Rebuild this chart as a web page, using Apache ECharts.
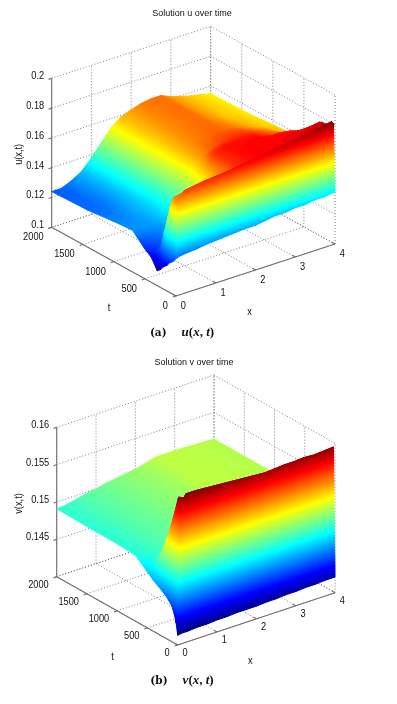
<!DOCTYPE html>
<html>
<head>
<meta charset="utf-8">
<style>html,body{margin:0;padding:0;background:#fff}#chart{width:397px;height:704px;filter:blur(0.45px)}</style>
<script src="https://cdn.jsdelivr.net/npm/echarts@6/dist/echarts.min.js"></script>
</head>
<body>
<div id="chart"></div>
<script>
// surface grid, rows of the two tables below follow tGrid, columns follow xGrid
const xGrid = [0, 0.1, 0.25, 0.5, 0.75, 1, 1.25, 1.5, 1.75, 2, 2.25, 2.5, 2.75, 3, 3.25, 3.5, 3.75, 4];
const tGrid = [0, 25, 50, 100, 150, 200, 250, 300, 400, 500, 700, 1000, 1400, 2000];

const uValues = [
    [.125, .126, .1265, .127, .128, .1285, .129, .1295, .130, .130, .131, .132, .132, .133, .133, .134, .134, .135],
    [.1235, .162, .168, .169, .170, .1705, .171, .172, .173, .1735, .174, .175, .1755, .176, .177, .178, .1785, .180],
    [.122, .165, .166, .167, .168, .169, .170, .171, .172, .173, .174, .175, .176, .1765, .1775, .1785, .180, .181],
    [.120, .163, .160, .158, .158, .160, .164, .168, .170, .172, .173, .173, .173, .174, .175, .176, .177, .178],
    [.117, .156, .150, .148, .150, .153, .159, .165, .170, .172, .173, .173, .173, .174, .175, .175, .176, .177],
    [.115, .146, .140, .138, .141, .147, .155, .163, .170, .172, .173, .173, .173, .174, .174, .175, .176, .177],
    [.112, .136, .130, .130, .135, .143, .153, .162, .170, .172, .173, .173, .173, .173, .174, .174, .175, .176],
    [.110, .126, .122, .125, .132, .141, .152, .162, .170, .172, .173, .173, .173, .173, .173, .173, .173, .172],
    [.117, .119, .122, .126, .132, .140, .150, .160, .170, .172, .172, .173, .173, .172, .172, .171, .169, .167],
    [.120, .122, .124, .127, .132, .139, .148, .158, .170, .172, .172, .172, .172, .170, .168, .167, .164, .162],
    [.128, .128, .128, .129, .133, .139, .146, .154, .162, .166, .168, .169, .169, .168, .166, .164, .160, .158],
    [.127, .127, .127, .129, .132, .138, .146, .154, .160, .163, .1645, .1655, .165, .164, .162, .160, .158, .157],
    [.125, .125, .125, .127, .131, .138, .146, .154, .159, .162, .1635, .1645, .1645, .162, .160, .158, .157, .1555],
    [.124, .124, .124, .127, .131, .138, .146, .154, .159, .1615, .1635, .1645, .1645, .1615, .1595, .1577, .1564, .1548]
];

const vValues = [
    [.1413, .1414, .1414, .1415, .1415, .1416, .1416, .1417, .1417, .1417, .1418, .1418, .1419, .1419, .1420, .1420, .1421, .1421],
    [.1428, .1585, .1597, .1597, .1596, .1595, .1594, .1593, .1592, .1591, .1590, .1591, .1592, .1592, .1593, .1592, .1593, .1594],
    [.1437, .1594, .159, .1575, .156, .155, .155, .155, .155, .155, .155, .155, .155, .155, .155, .155, .155, .155],
    [.1448, .1575, .155, .154, .1535, .153, .153, .153, .153, .153, .153, .153, .153, .153, .153, .153, .153, .153],
    [.1453, .1558, .1535, .1525, .152, .1518, .1518, .1518, .1518, .1518, .1518, .1518, .1518, .1518, .1518, .1518, .1518, .1518],
    [.1457, .1542, .1525, .1515, .151, .151, .151, .151, .151, .151, .1512, .1516, .1516, .1516, .1516, .1516, .1516, .1516],
    [.146, .1528, .1515, .151, .1505, .1505, .1505, .1507, .1508, .151, .1512, .1516, .1516, .1516, .1516, .1516, .1515, .1515],
    [.1463, .1515, .1505, .150, .150, .150, .1503, .1505, .1507, .1509, .1512, .1516, .1516, .1516, .1516, .1515, .1515, .1514],
    [.1468, .1495, .1495, .1495, .1498, .150, .1503, .1505, .1507, .1509, .1512, .1516, .1516, .1516, .1516, .1515, .1515, .1514],
    [.1475, .148, .149, .1495, .1498, .150, .1503, .1505, .1507, .1509, .1512, .1516, .1516, .1516, .1516, .1515, .1515, .1514],
    [.1488, .1488, .1492, .1495, .1498, .150, .1503, .1505, .1507, .1509, .1512, .1516, .1516, .1516, .1516, .1515, .1515, .1514],
    [.149, .149, .1492, .1495, .1498, .150, .1503, .1505, .1507, .1509, .1512, .1516, .1516, .1516, .1516, .1515, .1515, .1514],
    [.149, .149, .1492, .1495, .1498, .150, .1503, .1505, .1507, .1509, .1512, .1516, .1516, .1516, .1516, .1515, .1515, .1514],
    [.1491, .1491, .1492, .1495, .1498, .150, .1503, .1505, .1507, .1509, .1512, .1516, .1516, .1516, .1516, .1515, .1515, .1514]
];

const xTicks = [0, 1, 2, 3, 4];
const tTicks = [0, 500, 1000, 1500, 2000];
const uTicks = [0.1, 0.12, 0.14, 0.16, 0.18, 0.2];
const uTickLabels = ['0.1', '0.12', '0.14', '0.16', '0.18', '0.2'];
const vTicks = [0.14, 0.145, 0.15, 0.155, 0.16];
const vTickLabels = ['', '0.145', '0.15', '0.155', '0.16'];

// 3D box of each panel, as a linear map onto the hidden 2D axes
const panels = [
    {
        top: 0, values: uValues, zTicks: uTicks, zLabels: uTickLabels, zName: 'u(x,t)',
        origin: [176, 296], xVec: [39.75, -13], tVec: [-0.06217, -0.03433], zVec: -1490,
        colorRange: [0.108, 0.182], tLabelDy: 10, xLabelDy: 10.5, zNameDx: -32.7
    },
    {
        top: 350, values: vValues, zTicks: vTicks, zLabels: vTickLabels, zName: 'v(x,t)',
        origin: [177.7, 295], xVec: [39.33, -13.08], tVec: [-0.0605, -0.03417], zVec: -7467,
        colorRange: [0.1413, 0.1597], tLabelDy: 8.5, xLabelDy: 8.5, zNameDx: -37.7
    }
];

const jetKnots = [
    [0, [0, 0, 128]], [0.125, [0, 0, 255]], [0.375, [0, 255, 255]],
    [0.625, [255, 255, 0]], [0.875, [255, 0, 0]], [1, [128, 0, 0]]
];

function jet(f) {
    f = Math.max(0, Math.min(1, f));
    for (let k = 1; k < jetKnots.length; k++) {
        if (f <= jetKnots[k][0]) {
            let a = jetKnots[k - 1], b = jetKnots[k];
            let s = (f - a[0]) / (b[0] - a[0]);
            let c = a[1].map((v, n) => Math.round(v + (b[1][n] - v) * s));
            return 'rgb(' + c.join(',') + ')';
        }
    }
    return 'rgb(128,0,0)';
}

function project(p, x, t, z) {
    let zMin = p.zTicks[0];
    return [
        p.origin[0] + p.xVec[0] * x + p.tVec[0] * t,
        p.origin[1] + p.xVec[1] * x + p.tVec[1] * t + p.zVec * (z - zMin)
    ];
}

// one triangle with the colormap running across it
function triangle(p, a, b, c) {
    let lo = p.colorRange[0], span = p.colorRange[1] - lo;
    let pts = [a, b, c].map(v => [v[0], v[1]]);
    let fa = (a[2] - lo) / span, fb = (b[2] - lo) / span, fc = (c[2] - lo) / span;
    let det = (b[0] - a[0]) * (c[1] - a[1]) - (c[0] - a[0]) * (b[1] - a[1]);
    let fMin = Math.min(fa, fb, fc), fMax = Math.max(fa, fb, fc);
    let fill;
    if (Math.abs(det) < 0.01 || fMax - fMin < 0.002) {
        fill = jet((fa + fb + fc) / 3);
    } else {
        let gx = ((fb - fa) * (c[1] - a[1]) - (fc - fa) * (b[1] - a[1])) / det;
        let gy = ((fc - fa) * (b[0] - a[0]) - (fb - fa) * (c[0] - a[0])) / det;
        let g2 = gx * gx + gy * gy;
        let start = fa === fMin ? a : fb === fMin ? b : c;
        let d = (fMax - fMin) / g2;
        let stops = [{ offset: 0, color: jet(fMin) }];
        jetKnots.forEach(k => {
            if (k[0] > fMin && k[0] < fMax) {
                stops.push({ offset: (k[0] - fMin) / (fMax - fMin), color: jet(k[0]) });
            }
        });
        stops.push({ offset: 1, color: jet(fMax) });
        fill = new echarts.graphic.LinearGradient(start[0], start[1], start[0] + gx * d, start[1] + gy * d, stops, true);
    }
    return {
        type: 'polygon',
        shape: { points: pts },
        style: { fill: fill, stroke: fill, lineWidth: 1, lineJoin: 'round' },
        silent: true
    };
}

function surfaceSeries(p, index) {
    let cells = [];
    for (let j = tGrid.length - 2; j >= 0; j--) {
        for (let i = xGrid.length - 2; i >= 0; i--) cells.push([i, j]);
    }
    return {
        type: 'custom',
        xAxisIndex: index,
        yAxisIndex: index,
        clip: false,
        silent: true,
        animation: false,
        data: cells,
        renderItem: function (params, api) {
            let i = api.value(0), j = api.value(1);
            let corner = (ci, cj) => {
                let z = p.values[cj][ci];
                let s = api.coord(project(p, xGrid[ci], tGrid[cj], z));
                return [s[0], s[1], z];
            };
            let a = corner(i, j), b = corner(i + 1, j), c = corner(i + 1, j + 1), d = corner(i, j + 1);
            return { type: 'group', children: [triangle(p, a, c, d), triangle(p, a, b, c)] };
        }
    };
}

function frameSeries(p, index) {
    let zMin = p.zTicks[0], zMax = p.zTicks[p.zTicks.length - 1];
    let segs = [];
    xTicks.forEach(x => {
        segs.push([x, 0, zMin, x, 2000, zMin, 0]);
        segs.push([x, 2000, zMin, x, 2000, zMax, 0]);
        segs.push([x, 0, zMin, x, 50, zMin, 1]);
    });
    tTicks.forEach(t => {
        segs.push([0, t, zMin, 4, t, zMin, 0]);
        segs.push([4, t, zMin, 4, t, zMax, 0]);
        segs.push([0, t, zMin, -0.08, t, zMin, 1]);
    });
    p.zTicks.forEach(z => {
        segs.push([0, 2000, z, 4, 2000, z, 0]);
        segs.push([4, 2000, z, 4, 0, z, 0]);
        segs.push([0, 2000, z, -0.08, 2000, z, 1]);
    });
    segs.push([0, 2000, zMin, 0, 2000, zMax, 1]);
    segs.push([0, 0, zMin, 4, 0, zMin, 1]);
    segs.push([0, 0, zMin, 0, 2000, zMin, 1]);
    return {
        type: 'custom',
        xAxisIndex: index,
        yAxisIndex: index,
        clip: false,
        silent: true,
        animation: false,
        data: segs,
        renderItem: function (params, api) {
            let a = api.coord(project(p, api.value(0), api.value(1), api.value(2)));
            let b = api.coord(project(p, api.value(3), api.value(4), api.value(5)));
            let solid = api.value(6) === 1;
            return {
                type: 'line',
                shape: { x1: a[0], y1: a[1], x2: b[0], y2: b[1] },
                style: solid
                    ? { stroke: '#707070', lineWidth: 1.1 }
                    : { stroke: '#707070', lineWidth: 0.9, lineDash: [1, 2] }
            };
        }
    };
}

function labelSeries(p, index) {
    let zMin = p.zTicks[0], zMid = (zMin + p.zTicks[p.zTicks.length - 1]) / 2;
    let labels = [];
    p.zTicks.forEach((z, n) => labels.push([p.zLabels[n], 0, 2000, z, -7.5, -2, 'right', 0]));
    tTicks.forEach(t => labels.push([String(t), 0, t, zMin, -8, p.tLabelDy, 'right', 0]));
    xTicks.forEach(x => labels.push([String(x), x, 0, zMin, 7.3, p.xLabelDy, 'center', 0]));
    labels.push(['t', 0, 1000, zMin, -4.7, 46, 'center', 0]);
    labels.push(['x', 2, 0, zMin, -6, 42, 'center', 0]);
    labels.push([p.zName, 0, 2000, zMid, p.zNameDx, 1.5, 'center', 1]);
    return {
        type: 'custom',
        xAxisIndex: index,
        yAxisIndex: index,
        clip: false,
        silent: true,
        animation: false,
        data: labels.map((l, n) => [n]),
        renderItem: function (params, api) {
            let l = labels[api.value(0)];
            let s = api.coord(project(p, l[1], l[2], l[3]));
            return {
                type: 'text',
                x: s[0] + l[4],
                y: s[1] + l[5],
                rotation: l[7] * Math.PI / 2,
                scaleX: 0.88,
                style: {
                    text: l[0],
                    fill: '#111',
                    font: '10.5px "Liberation Sans"',
                    textAlign: l[6],
                    textVerticalAlign: 'middle'
                }
            };
        }
    };
}

let chart = echarts.init(document.getElementById('chart'), null, { renderer: 'canvas' });

let series = [];
panels.forEach((p, i) => {
    series.push(frameSeries(p, i), surfaceSeries(p, i), labelSeries(p, i));
});

function caption(tag, name, top) {
    return {
        text: '{b|(' + tag + ')}   {i|' + name + '}{r|(}{i|x}{r|, }{i|t}{r|)}',
        left: 182, top: top, padding: 0, textAlign: 'center', textVerticalAlign: 'middle',
        textStyle: {
            rich: {
                b: { fontFamily: 'DejaVu Serif', fontSize: 10.5, fontWeight: 'bold', color: '#111' },
                i: { fontFamily: 'Liberation Serif', fontSize: 13, fontStyle: 'italic', color: '#111' },
                r: { fontFamily: 'Liberation Serif', fontSize: 13, color: '#111' }
            }
        }
    };
}

function plotTitle(text, left, top) {
    return {
        text: text, left: left, top: top, padding: 0, textAlign: 'center', textVerticalAlign: 'middle',
        textStyle: { fontFamily: 'Liberation Sans', fontSize: 9, fontWeight: 'normal', color: '#111' }
    };
}

let option = {
    backgroundColor: '#fff',
    animation: false,
    title: [
        plotTitle('Solution u over time', 192, 14),
        plotTitle('Solution v over time', 194, 363),
        caption('a', 'u', 333),
        caption('b', 'v', 681)
    ],
    grid: panels.map(p => ({ left: 0, top: p.top, width: 397, height: 350 })),
    xAxis: panels.map((p, i) => ({ type: 'value', gridIndex: i, min: 0, max: 397, show: false })),
    yAxis: panels.map((p, i) => ({ type: 'value', gridIndex: i, min: 0, max: 350, inverse: true, show: false })),
    series: series
};

chart.setOption(option);
</script>
</body>
</html>
